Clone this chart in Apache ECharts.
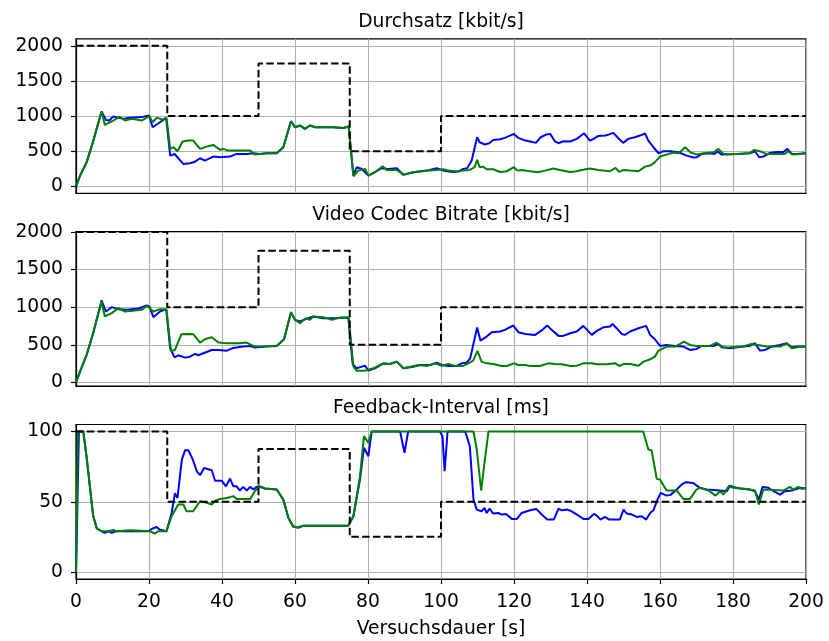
<!DOCTYPE html>
<html>
<head>
<meta charset="utf-8">
<script src="https://cdn.jsdelivr.net/npm/echarts@6/dist/echarts.min.js"></script>
<style>
  html, body { margin: 0; padding: 0; background: #fff; }
  #chart { width: 829px; height: 641px; }
</style>
</head>
<body>
<div id="chart"></div>
<script>
// Panel titles and axis labels
const panelTitles = ['Durchsatz [kbit/s]', 'Video Codec Bitrate [kbit/s]', 'Feedback-Interval [ms]'];
const xName = 'Versuchsdauer [s]';
const rateTicks = [0, 500, 1000, 1500, 2000];
const fbTicks = [0, 50, 100];

// Configured link capacity (step function, value holds until next x)
const stepTimes = [0, 25, 50, 75, 100, 200];
const rateLimit = [2000, 1000, 1750, 500, 1000, 1000];
const fbLimit = [100, 50, 87.5, 25, 50, 50];

// Durchsatz [kbit/s]
const thrBlue = [[0,0],[1.1,150],[2.9,340],[4.7,640],[7,1064],[8.2,945],[9.1,936],[10.2,993],[11.6,975],[13.1,960],[14.5,975],[16,980],[18,985],[20,1007],[21,841],[22.8,905],[24.7,974],[25.8,437],[27,460],[29.4,318],[31.2,328],[32.6,350],[34,399],[35.3,366],[37.6,423],[39.5,413],[42.2,423],[44,461],[46.8,461],[48.6,470],[49,451],[50.4,461],[52.2,470],[55,470],[56.8,556],[58.9,926],[60,841],[61.4,865],[62.7,817],[64.1,865],[65.5,841],[67.8,841],[70.5,841],[73.2,831],[74.7,850],[76,152],[76.9,271],[78.3,247],[80.1,152],[81.9,200],[83.7,257],[85.6,247],[87.9,257],[89.7,162],[92.4,200],[96.1,223],[98.8,257],[100.2,233],[101.6,214],[103.4,204],[104.7,209],[106.1,247],[107.2,257],[108.4,366],[109.9,698],[110.6,627],[112,594],[113.2,613],[114.3,660],[116.2,670],[117.5,689],[120,746],[121.2,689],[123.1,651],[124.4,637],[126,618],[127.3,698],[128.8,736],[129.9,746],[131.2,641],[132.2,613],[133.5,641],[135.4,637],[137.2,675],[139.2,755],[140.8,651],[141.8,675],[143.1,717],[145,722],[145.9,736],[147.2,760],[148.6,684],[149.9,618],[151.3,675],[153.1,698],[154.5,722],[155.9,751],[156.8,651],[158.2,556],[159.6,470],[160.9,499],[162.8,499],[165.1,485],[167.3,437],[169.2,409],[170.1,413],[171.4,461],[173.7,470],[175,461],[175.7,499],[176.9,451],[178.3,451],[181,461],[184.6,470],[186,499],[187.2,413],[188.3,423],[190.1,475],[192,489],[193.8,489],[194.9,532],[196.1,461],[197.5,461],[200,470]];
const thrGreen = [[0,0],[1.1,150],[2.9,340],[4.7,640],[7,1064],[7.9,874],[10.2,936],[11.9,993],[13.4,936],[15.3,960],[18,936],[20.1,998],[21,912],[22.1,974],[23.9,950],[24.8,974],[25.8,532],[26.7,556],[27.8,499],[29.2,637],[30.8,651],[32.1,651],[34,532],[35.8,565],[37.6,589],[38.5,556],[39.5,518],[40.4,532],[41.7,508],[44,508],[47.7,508],[49,451],[50.4,461],[52.2,470],[55,470],[56.8,556],[58.9,926],[60,841],[61.4,865],[62.7,817],[64.1,865],[65.5,841],[67.8,841],[70.5,841],[73.2,831],[74.7,850],[76,143],[77.3,223],[79.2,247],[80.1,152],[81.9,200],[84,285],[85.1,233],[87.9,233],[89.7,166],[92.4,200],[96,220],[98.8,233],[100.6,242],[102,223],[104.3,209],[106.1,223],[107.9,233],[109.2,271],[109.9,375],[110.6,271],[111.5,280],[112.5,242],[114.3,242],[116.2,204],[118,214],[120,271],[120.9,223],[122.1,233],[124.4,214],[126.6,200],[128.5,223],[130.8,252],[132.6,233],[135.4,204],[137.2,214],[138.5,233],[140.8,252],[143.1,233],[146.3,214],[147.8,261],[148.9,204],[150,233],[151.8,223],[154.1,214],[155.9,280],[157.3,295],[158.4,333],[160,423],[161.8,451],[163.7,480],[165.1,470],[166.9,556],[168.3,485],[170.1,451],[171.9,470],[174.7,485],[176,532],[177.4,461],[179,461],[181.9,461],[184.6,470],[185.7,518],[187.4,499],[189.2,461],[191,461],[194.2,461],[195.1,499],[196.3,451],[198.3,461],[200,470]];

// Video Codec Bitrate [kbit/s]
const brBlue = [[0,0],[1.1,142],[2.9,364],[4.7,653],[7,1089],[8.2,942],[9.8,1000],[11.6,973],[13.9,964],[17.1,982],[19.4,1022],[20.1,1010],[21.2,867],[23,942],[24.7,973],[25.8,453],[27,333],[28,360],[29.9,329],[31.2,342],[32.6,378],[33.5,360],[34.9,387],[37.2,431],[39,431],[41.3,422],[43.1,458],[45.8,476],[47.7,484],[49,462],[52.2,476],[55,484],[57,573],[58.9,933],[60,831],[61.4,809],[62.9,840],[65,876],[67.8,853],[71,853],[74.6,862],[75.8,244],[76.9,187],[78.3,209],[79.2,222],[80.1,156],[81.9,187],[84.2,253],[86,244],[87.9,276],[89.7,187],[92.4,209],[94.2,231],[97,231],[98.8,262],[100.2,231],[102,218],[104.3,218],[105.7,253],[107,262],[108,320],[109.9,729],[110.8,556],[112.5,609],[113.9,667],[116.2,676],[117.5,698],[119.8,756],[121.2,667],[123.1,644],[125.8,631],[127.8,698],[129.1,756],[130.3,698],[132.2,618],[133.5,618],[135.4,653],[137.2,676],[139,751],[141.3,631],[142.7,684],[144.6,733],[146.3,742],[147,778],[148.1,720],[149.5,644],[150.4,631],[151.8,676],[154.1,720],[156.2,751],[157.3,631],[158.6,573],[160,484],[161.8,498],[164.1,484],[166.4,476],[168.2,431],[170,444],[171.4,484],[174.6,484],[176,511],[177.2,467],[179.2,453],[182.8,476],[184.6,484],[186,520],[187.4,422],[188.8,431],[190.6,476],[192.9,498],[194.7,520],[196.1,467],[197.5,476],[200,476]];
const brGreen = [[0,0],[1.1,142],[2.9,364],[4.7,653],[7,1076],[7.9,876],[9.8,920],[11.6,987],[13.4,942],[14.8,950],[18,964],[19.5,1018],[21.2,942],[23,973],[24.8,968],[26,418],[27.1,431],[28.9,640],[30.8,644],[32.1,640],[34,529],[35.3,573],[37.2,600],[39,529],[41.3,520],[44.9,520],[46.8,529],[49,476],[52.2,480],[55,488],[57,573],[58.9,933],[60,831],[61.4,787],[62.9,853],[64.1,831],[65,876],[67.8,867],[70.1,831],[72.3,862],[74.7,862],[76,209],[76.9,156],[79.2,156],[81.5,187],[83.7,244],[86,244],[87.9,276],[89.7,187],[93.8,231],[96.1,218],[98.3,253],[100.2,222],[102,244],[103.8,218],[106.1,218],[107.5,253],[108.8,289],[110,418],[111.1,276],[112.5,253],[114.3,244],[116.6,218],[118,218],[120,253],[121.2,231],[123.1,231],[124.4,218],[127.1,218],[129.4,253],[131.2,244],[133.1,240],[135.4,218],[137.2,222],[139,253],[141.3,253],[142.7,240],[145.4,240],[147.7,253],[148.9,218],[150,244],[151.8,244],[154.1,222],[155.5,276],[157.3,307],[158.6,342],[159.5,418],[160.9,453],[161.8,476],[164.1,476],[165.5,511],[166.6,542],[168.2,498],[170,484],[173.7,484],[175.5,529],[176.9,462],[179.2,467],[182.8,476],[185.1,511],[186.9,498],[189.2,476],[192.9,476],[194.7,520],[196.1,453],[197.5,467],[200,476]];

// Feedback-Interval [ms]
const fbBlue = [[0,0],[0.8,100],[2,100],[2.9,82],[3.8,61],[4.7,40],[5.7,31],[7,29],[7.9,27.8],[8.9,29],[9.8,27.8],[10.8,29],[13.9,29],[19.8,29],[21,31],[22.1,32],[23,30],[24.8,29],[26.2,42],[27.1,56],[27.8,52.7],[29,80],[29.9,86.7],[30.8,86.7],[32,80],[33.1,71.7],[34,68.9],[35.1,74],[37.2,72.4],[38.1,65],[39.9,65],[41.1,61],[42.2,66.5],[43.1,61],[44,61],[44.9,58],[45.8,60.6],[46.8,58],[47.7,60.6],[48.6,58.7],[49.5,60.6],[50.2,61],[51.8,59.4],[55,58.7],[56.8,51.5],[58.2,38.5],[59.5,32.5],[60.9,31.4],[62.3,33],[66.8,33],[74.6,33],[76,39.7],[77.8,65.8],[78.9,88.4],[80.1,82.4],[81,100],[88.8,100],[90,84.8],[91,100],[99.7,100],[100.4,96.7],[101,71.7],[101.8,100],[106.6,100],[107.2,95.5],[107.9,89.5],[108.9,51.5],[109.8,44.4],[110.2,45.6],[111.1,43.2],[111.9,45.6],[112.5,42],[113.3,45.1],[114.3,41.6],[115.7,42],[116.6,40.9],[117.8,41.3],[119.4,37.8],[120.8,37.8],[122.1,42],[124.4,43.9],[126.1,44.9],[127.6,40.9],[129.1,37.3],[130.9,37.3],[132.2,45.1],[133.1,43.9],[134.6,44.4],[135.8,43.2],[137.2,40.9],[139,37.8],[140.4,37.8],[141.9,41.3],[142.7,40.1],[143.7,37.3],[144.9,39.2],[146.1,37.3],[149,37.3],[150,44.4],[150.9,41.6],[152.3,40.9],[153.6,39.2],[155,39.7],[156.2,37.3],[157.3,42],[158.2,43.9],[159.3,51.5],[160.2,56.3],[161.8,54.4],[162.9,54.9],[164.6,58.7],[165.9,62.2],[167.1,63.9],[169.1,63.4],[170.9,59.9],[172.8,58.7],[175.5,58.2],[178.3,57.5],[179.2,61.5],[180.1,60.6],[181.9,59.4],[184.6,58.7],[186,57.5],[187.1,51.5],[188.1,60.6],[189.7,59.9],[191.1,57.5],[192.9,55.1],[194.2,57.5],[196.1,58],[197,58.7],[198.4,59.9],[200,59.4]];
const fbGreen = [[0,0],[0.5,100],[2,100],[2.9,82],[3.8,61],[4.7,40],[5.7,31],[7,29],[8.9,29],[10.2,30],[11.1,29],[14.8,29.7],[20.3,29],[21.6,27.3],[22.5,29],[24.8,29],[26.2,39.7],[28,48],[29.4,48],[30.3,43.2],[32.1,43.2],[34,50.4],[34.9,49.8],[35.8,49.2],[37.2,48],[38.1,50.8],[39.5,52],[41.3,52.7],[43.1,54],[44,52],[45.8,52],[47.7,52],[49,57.5],[50.2,60.6],[51.8,59.4],[55,58.7],[56.8,51.5],[58.2,38.5],[59.5,32],[60.9,32],[62.3,33],[66.8,33],[74.6,33],[76,39.7],[77.8,68],[78.9,96.7],[80.1,92],[81,100],[108.9,100],[109.8,87.2],[111,58],[111.8,75.3],[113,100],[155.4,100],[156.8,87.2],[157.7,86.7],[159.1,66.3],[160,65.8],[161.8,58],[164.6,58],[166.4,52],[168.2,52],[170,58.7],[170.9,59.9],[173.3,58],[175.2,54.4],[176.5,57.5],[177.4,55.1],[178.8,61],[180.1,59.9],[183.7,59.1],[186,58],[187.1,48],[188.3,58.7],[193.8,58],[195.6,60.6],[196.5,58.7],[197.9,60.6],[198.8,59.1],[200,59.9]];

const FONT = 'DejaVu Sans';
const FS = 18.7;
const GRID_COLOR = '#b0b0b0';

const gridTops = [38.8, 231.5, 424.5];
const gridH = 154.5;
const yRanges = [[-100, 2100], [-48, 2005], [-5, 105]];
const yTicks = [rateTicks, rateTicks, fbTicks];
const titleTops = [12.7, 205.4, 398.5];

function stepData(limits) {
  return stepTimes.map((t, i) => [t, limits[i]]);
}

const plainNumber = v => String(v);

const grids = gridTops.map(t => ({
  left: 76, right: 23, top: t, height: gridH,
  show: true, borderColor: '#000', borderWidth: 1.2, backgroundColor: 'transparent'
}));

const xAxes = [0, 1, 2].map(i => ({
  type: 'value', gridIndex: i, min: 0, max: 200, interval: 20,
  name: i === 2 ? xName : '',
  nameLocation: 'middle', nameGap: 41,
  nameTextStyle: { fontFamily: FONT, fontSize: FS, color: '#000' },
  axisLine: { show: true, onZero: false, lineStyle: { color: '#000', width: 1.2 } },
  axisTick: { show: i === 2, length: 5, lineStyle: { color: '#000', width: 1.2 } },
  axisLabel: { show: i === 2, formatter: plainNumber, fontFamily: FONT, fontSize: FS, color: '#000', margin: 14 },
  splitLine: { show: true, lineStyle: { color: GRID_COLOR, width: 1.1 } }
}));

const yAxes = [0, 1, 2].map(i => ({
  type: 'value', gridIndex: i, min: yRanges[i][0], max: yRanges[i][1],
  axisLine: { show: true, onZero: false, lineStyle: { color: '#000', width: 1.2 } },
  axisTick: { show: true, length: 5, customValues: yTicks[i], lineStyle: { color: '#000', width: 1.2 } },
  axisLabel: { customValues: yTicks[i], formatter: plainNumber, fontFamily: FONT, fontSize: FS, color: '#000', margin: 13 },
  splitLine: { show: true, lineStyle: { color: GRID_COLOR, width: 1.1 } }
}));

function line(data, idx, color, extra) {
  return Object.assign({
    type: 'line', xAxisIndex: idx, yAxisIndex: idx, data: data,
    showSymbol: false, symbol: 'none', silent: true,
    lineStyle: { color: color, width: 2 }
  }, extra || {});
}

const dashStyle = { color: '#000', width: 2, type: [7.5, 3.3] };

const series = [
  line(thrBlue, 0, '#0000ff'), line(thrGreen, 0, '#008000'),
  line(stepData(rateLimit), 0, '#000', { step: 'end', lineStyle: dashStyle }),
  line(brBlue, 1, '#0000ff'), line(brGreen, 1, '#008000'),
  line(stepData(rateLimit), 1, '#000', { step: 'end', lineStyle: dashStyle }),
  line(fbBlue, 2, '#0000ff'), line(fbGreen, 2, '#008000'),
  line(stepData(fbLimit), 2, '#000', { step: 'end', lineStyle: dashStyle })
];

const chart = echarts.init(document.getElementById('chart'), null, { renderer: 'canvas' });
chart.setOption({
  animation: false,
  backgroundColor: '#fff',
  title: panelTitles.map((t, i) => ({
    text: t, left: 441, top: titleTops[i], textAlign: 'center', padding: 0,
    textStyle: { fontFamily: FONT, fontSize: FS, fontWeight: 'normal', color: '#000' }
  })),
  grid: grids,
  xAxis: xAxes,
  yAxis: yAxes,
  series: series
});
</script>
</body>
</html>
